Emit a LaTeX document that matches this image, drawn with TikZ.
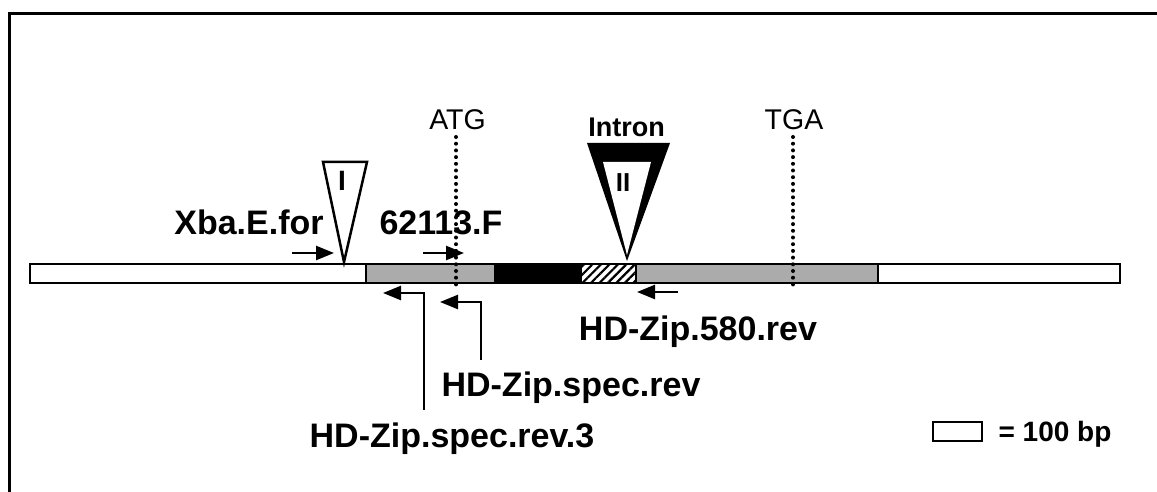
\documentclass[tikz,border=0pt]{standalone}
\usepackage{fontspec}
\setmainfont{Liberation Sans}
\usetikzlibrary{arrows.meta,patterns.meta}
\begin{document}
\begin{tikzpicture}[x=1pt,y=-1pt,
  lbl/.style={font=\bfseries\fontsize{34}{38}\selectfont, inner sep=0pt, anchor=base},
  rlbl/.style={font=\fontsize{28.5}{32}\selectfont, inner sep=0pt, anchor=base},
  prim/.style={line width=2.5pt, -{Triangle[length=18pt,width=14pt]}},
  dotline/.style={line width=4pt, line cap=round, dash pattern=on 0pt off 6.7pt},
  stip/.style={fill=black!33},
]
\useasboundingbox (0,0) rectangle (1157,492);
\fill[white] (0,0) rectangle (1157,492);
\draw[line width=3pt] (9,492) -- (9,14) -- (1157,14);

% gene bar
\fill[white] (30,264) rectangle (366,283);
\fill[stip] (366,264) rectangle (495,283);
\fill[black] (495,264) rectangle (581,283);
\fill[white] (581,264) rectangle (636,283);
\fill[pattern={Lines[angle=45,distance=6pt,line width=2.2pt]}] (581,264) rectangle (636,283);
\fill[stip] (636,264) rectangle (878,283);
\fill[white] (878,264) rectangle (1120,283);
\draw[line width=2.5pt] (30,264) rectangle (1120,283);
\foreach \x in {366,495,581,636,878} \draw[line width=2.5pt] (\x,264) -- (\x,283);

% ATG / TGA
\draw[dotline] (456,137) -- (456,290);
\draw[dotline] (793,137) -- (793,290);
\node[rlbl] (atg) at (457.5,130) {ATG};
\node[rlbl] (tga) at (794,130) {TGA};

% insertion I
\draw[line width=2.5pt, fill=white] (323,162) -- (367,162) -- (344,262) -- cycle;
\node[font=\bfseries\fontsize{28}{30}\selectfont, inner sep=0pt] (one) at (342,181) {I};

% intron II
\fill[black] (587,143) -- (670,143) -- (627,261) -- cycle;
\fill[white] (603,162) -- (651,162) -- (627,255) -- cycle;
\node[font=\bfseries\fontsize{26}{28}\selectfont, inner sep=0pt] (two) at (623,183) {II};
\node[lbl, font=\bfseries\fontsize{27}{30}\selectfont] (intron) at (626.5,137) {Intron};

% primers
\coordinate (xbaS) at (292,253); \coordinate (xbaE) at (334,253);
\draw[prim] (xbaS) -- (xbaE);
\coordinate (fS) at (423,253); \coordinate (fE) at (464,253);
\draw[prim] (fS) -- (fE);
\coordinate (r3S) at (424,410); \coordinate (r3E) at (383,293);
\draw[prim] (r3S) |- (r3E);
\coordinate (rsS) at (481,360); \coordinate (rsE) at (440,302);
\draw[prim] (rsS) |- (rsE);
\coordinate (r580S) at (678,292); \coordinate (r580E) at (637,292);
\draw[prim] (r580S) -- (r580E);

\node[lbl] (xba) at (249,234) {Xba.E.for};
\node[lbl] (f62) at (441,234) {62113.F};
\node[lbl] (r580) at (698,340) {HD-Zip.580.rev};
\node[lbl] (rspec) at (571,396) {HD-Zip.spec.rev};
\node[lbl] (rspec3) at (452,447) {HD-Zip.spec.rev.3};

% scale
\draw[line width=2.5pt] (933,422) rectangle (982,441);
\node[lbl, font=\bfseries\fontsize{28}{30}\selectfont] (bp) at (1055,441) {= 100 bp};
\end{tikzpicture}
\end{document}
